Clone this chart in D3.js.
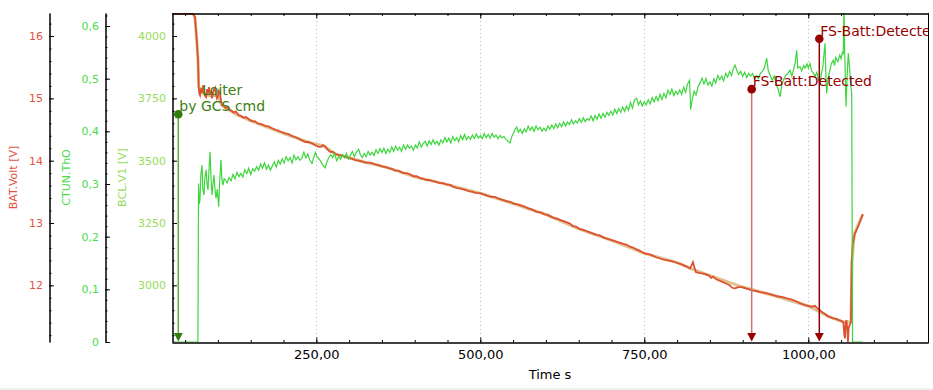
<!DOCTYPE html>
<html lang="en">
<head>
<meta charset="UTF-8">
<script src="https://cdn.jsdelivr.net/npm/d3@7"></script>
<style>
  body { margin: 0; background: #fff; }
  text { font-family: "DejaVu Sans", sans-serif; }
</style>
</head>
<body>
<div id="chart"></div>
<script>
// ---- data ----
var ctunThO = [[30,0],[69.5,0],[70.5,0.301],[71.5,0.262],[72.7,0.27],[74,0.318],[75.8,0.336],[77,0.29],[78.8,0.279],[80,0.31],[81.9,0.327],[83.5,0.3],[84.9,0.289],[86.5,0.33],[88,0.361],[89.5,0.31],[91,0.279],[92.5,0.3],[94,0.317],[95.5,0.29],[97.1,0.273],[99,0.29],[101.2,0.257],[102.5,0.3],[104.7,0.346],[106,0.31],[107.8,0.298],[109.5,0.31],[111.3,0.308],[114,0.302],[117,0.312],[120,0.306],[123,0.318],[126,0.31],[129,0.322],[132,0.314],[135,0.32],[138,0.313],[141,0.327],[144,0.32],[147,0.33],[150,0.318],[153,0.329],[156,0.324],[159,0.333],[162,0.326],[165,0.338],[168,0.33],[171,0.34],[174,0.328],[177,0.336],[180,0.326],[183,0.334],[186,0.342],[189,0.332],[192,0.345],[195,0.338],[198,0.348],[201,0.34],[204,0.352],[207,0.344],[210,0.35],[213,0.34],[216,0.355],[219,0.346],[222,0.352],[225,0.345],[228,0.349],[231,0.36],[234,0.35],[237,0.357],[240,0.346],[243.4,0.339],[246,0.35],[248.5,0.36],[251,0.352],[254,0.348],[257,0.342],[260,0.336],[263.7,0.331],[266,0.342],[269,0.35],[272,0.356],[275,0.35],[278,0.358],[281,0.344],[284,0.352],[287,0.347],[290,0.356],[293,0.35],[296,0.358],[299,0.347],[302,0.355],[305,0.362],[308,0.352],[311,0.36],[314.6,0.366],[317,0.356],[320,0.35],[323,0.358],[326,0.352],[329,0.362],[332,0.355],[335,0.36],[338,0.354],[341,0.365],[344,0.358],[347,0.367],[350,0.36],[353,0.368],[356,0.358],[359,0.366],[362,0.36],[365,0.37],[368,0.362],[371,0.372],[374,0.364],[377,0.37],[380,0.362],[383,0.374],[386,0.366],[389,0.374],[392,0.368],[395,0.372],[398,0.364],[401,0.374],[404,0.368],[407,0.38],[410,0.37],[413,0.377],[416,0.381],[419,0.372],[422,0.382],[425,0.375],[428,0.384],[431,0.376],[434,0.381],[437,0.374],[440,0.384],[443,0.378],[446,0.388],[449,0.38],[452,0.387],[455,0.378],[458,0.39],[461,0.382],[464,0.388],[467,0.38],[470,0.392],[473,0.384],[476,0.394],[479,0.384],[482,0.39],[485,0.385],[488,0.393],[491,0.386],[494,0.395],[497,0.387],[500,0.392],[503,0.386],[506,0.396],[509,0.388],[512,0.394],[515,0.387],[518,0.396],[521,0.389],[524,0.393],[527,0.386],[530,0.392],[533,0.388],[536,0.39],[539,0.385],[542,0.381],[545.3,0.378],[548,0.39],[551,0.398],[553,0.404],[555.5,0.408],[558,0.398],[561,0.404],[564,0.396],[567,0.405],[570,0.399],[573,0.41],[576,0.402],[579,0.408],[582,0.4],[585,0.41],[588,0.403],[591,0.408],[594,0.4],[597,0.406],[600,0.401],[603,0.41],[606,0.404],[609,0.412],[612,0.405],[615,0.414],[618,0.407],[621,0.415],[624,0.409],[627,0.418],[630,0.41],[633,0.418],[636,0.413],[639,0.422],[642,0.414],[645,0.42],[648,0.416],[651,0.424],[654,0.417],[657,0.426],[660,0.418],[663,0.424],[666,0.421],[669,0.429],[672,0.42],[675,0.43],[678,0.423],[681,0.433],[684,0.425],[687,0.434],[690,0.427],[693,0.436],[696,0.43],[699,0.438],[702,0.431],[705,0.442],[708,0.434],[711,0.443],[714,0.436],[717,0.446],[720,0.438],[723,0.448],[726,0.44],[729,0.455],[732,0.444],[735,0.46],[738.4,0.463],[741,0.45],[744,0.458],[747,0.448],[750,0.456],[753,0.45],[756,0.46],[759,0.452],[762,0.464],[765,0.456],[768,0.466],[771,0.458],[774,0.47],[777,0.46],[780,0.472],[783,0.464],[786,0.478],[789,0.47],[792,0.48],[795,0.468],[798,0.476],[801,0.47],[804,0.479],[807,0.47],[810,0.484],[813,0.474],[816,0.49],[819,0.497],[820.7,0.441],[823,0.46],[826,0.476],[829,0.469],[832,0.485],[835,0.492],[838,0.501],[841,0.49],[844,0.5],[847,0.488],[850,0.494],[853,0.486],[856,0.5],[859,0.492],[862,0.506],[865,0.498],[868,0.505],[871,0.496],[874,0.51],[877,0.503],[880,0.514],[883,0.506],[886,0.52],[888.3,0.526],[891,0.516],[894,0.508],[897,0.514],[900,0.504],[903,0.512],[906,0.502],[909,0.51],[912,0.505],[915,0.51],[918,0.5],[921,0.506],[924,0.5],[927,0.51],[930,0.514],[933,0.52],[936.6,0.539],[939,0.515],[942,0.506],[945,0.497],[948,0.505],[951,0.49],[954,0.48],[957,0.466],[960,0.49],[963,0.5],[966,0.507],[969,0.51],[972,0.516],[975,0.505],[978,0.52],[980,0.53],[982.3,0.554],[984,0.52],[987.3,0.523],[990,0.515],[993,0.525],[995,0.52],[998,0.528],[1000,0.52],[1002.6,0.529],[1005,0.515],[1008,0.51],[1010.2,0.504],[1013,0.512],[1015,0.5],[1017.8,0.491],[1020,0.51],[1022,0.52],[1025.5,0.567],[1027,0.5],[1028,0.472],[1030,0.5],[1033,0.516],[1035,0.528],[1038,0.535],[1040,0.525],[1042,0.54],[1045,0.532],[1048,0.545],[1050,0.538],[1052,0.55],[1053.4,0.548],[1054.4,0.64],[1055.5,0.55],[1057.5,0.447],[1059,0.5],[1061,0.548],[1063,0.52],[1064.5,0.49],[1066.2,0.472],[1067.5,0],[1083,0]];

var batVolt = [[30,16.36],[62,16.36],[65,16.3],[67.7,15.94],[69.7,15.61],[70.7,15.19],[71.5,15.08],[72.7,15.05],[74,15.16],[75.5,15.08],[77.3,15.21],[79,15.1],[80.5,15.04],[81.9,15.02],[83.5,15.15],[85,15.08],[86.4,15.18],[88,15.06],[89.5,15.12],[91,15.0],[92.5,15.1],[94,15.14],[95.6,15.17],[97,15.06],[98.5,15.0],[100.2,15.04],[101.5,15.12],[103.2,15.09],[104.5,14.98],[106.3,14.89],[109,14.88],[112,14.84],[115,14.86],[118.4,14.81],[121,14.8],[124,14.77],[127,14.79],[131.7,14.73],[135,14.72],[139,14.69],[143,14.7],[148.9,14.65],[153,14.63],[157,14.63],[160,14.6],[164.2,14.59],[168,14.58],[172,14.56],[177,14.55],[182.5,14.52],[187,14.5],[192,14.48],[197,14.46],[202.3,14.44],[207,14.43],[212,14.4],[217.5,14.38],[222,14.36],[227,14.33],[233.2,14.3],[238,14.3],[243.4,14.28],[248,14.25],[253.7,14.22],[257,14.22],[260,14.25],[263.7,14.23],[267,14.18],[270.9,14.14],[275,14.14],[279,14.11],[284.1,14.09],[290,14.08],[295.3,14.06],[300,14.04],[305,14.03],[309.5,14.01],[315,14.0],[319.7,13.99],[325,13.97],[330,13.97],[334.9,13.96],[340,13.94],[345,13.93],[350,13.91],[354.7,13.9],[360,13.88],[365,13.87],[370,13.84],[375,13.84],[382.6,13.8],[388,13.8],[393,13.78],[398,13.75],[403,13.75],[408.1,13.72],[413,13.71],[418,13.69],[423,13.69],[428,13.67],[433.5,13.66],[438,13.64],[443,13.64],[448,13.62],[453.8,13.61],[459,13.58],[465,13.56],[470,13.55],[476.7,13.53],[482,13.51],[488,13.5],[494,13.48],[499.5,13.48],[505,13.46],[510,13.44],[516,13.42],[522.4,13.42],[528,13.39],[534,13.37],[540,13.35],[545.3,13.34],[551,13.31],[557,13.3],[563,13.28],[568.1,13.26],[574,13.23],[580,13.21],[586,13.18],[592,13.17],[598,13.14],[603,13.13],[606.2,13.11],[612,13.08],[617,13.07],[621.5,13.05],[627,13.03],[632,13.01],[636.7,12.99],[641,12.95],[646,12.94],[652,12.9],[657,12.89],[662,12.87],[667.2,12.85],[672,12.83],[677,12.81],[682,12.8],[687.5,12.77],[693,12.75],[699,12.73],[705.3,12.71],[711,12.69],[717,12.67],[723.2,12.65],[728,12.62],[732,12.61],[737.3,12.58],[742,12.56],[747,12.53],[751.5,12.51],[757,12.5],[762,12.48],[768,12.45],[773.9,12.43],[780,12.41],[785,12.4],[790,12.39],[796.8,12.37],[802,12.35],[806,12.34],[810,12.32],[815,12.3],[819.7,12.27],[822,12.32],[824.2,12.37],[826,12.3],[828.8,12.21],[833,12.2],[838,12.19],[842.5,12.18],[848,12.16],[852,12.12],[855.2,12.14],[859,12.1],[865.4,12.07],[870,12.05],[876.1,12.02],[880,12.0],[884,11.96],[888.3,11.95],[893,11.97],[899,11.97],[905,11.95],[909,11.94],[913.7,11.92],[920,11.91],[926.4,11.89],[934,11.88],[941.6,11.86],[948,11.84],[954.3,11.82],[961,11.81],[967.5,11.79],[975,11.77],[982.3,11.74],[988,11.71],[995,11.68],[1002.6,11.66],[1007,11.66],[1010.2,11.67],[1014,11.63],[1017.8,11.6],[1021,11.57],[1025.5,11.54],[1030,11.5],[1033,11.49],[1038,11.47],[1042.2,11.46],[1047,11.44],[1050,11.43],[1053.4,11.41],[1055,11.2],[1056,11.15],[1057,11.4],[1058.2,11.44],[1059.5,11.3],[1060.5,11.09],[1061.5,11.3],[1062.8,11.36],[1064,11.38],[1065,11.41],[1066.2,12.35],[1067.7,12.67],[1071.2,12.83],[1077.3,12.98],[1083.2,13.14]];

var bclV1 = [[30,4090],[62,4090],[65,4075],[67.7,3985],[69.7,3902],[70.7,3797],[80,3765],[90,3760],[100,3762],[106,3722],[130,3683],[160,3650],[200,3610],[240,3572],[260,3560],[280,3526],[320,3497],[360,3471],[400,3435],[450,3404],[500,3370],[550,3328],[600,3284],[650,3226],[700,3180],[750,3128],[800,3092],[820,3068],[860,3030],[900,2993],[950,2957],[1000,2917],[1030,2876],[1053,2853],[1065,2853],[1066.5,3090],[1070,3205],[1083,3285]];

var eventTimes = [39.6, 913.7, 1016.8];
var eventLabels = [["Loiter", "by GCS cmd"], ["FS-Batt:Detected"], ["FS-Batt:Detected"]];
var eventLevels = [3686, 3787, 3989]; // marker height, read on the BCL.V1 axis

var timeTicks = [250, 500, 750, 1000];
var batTicks = [12, 13, 14, 15, 16];
var ctunTicks = [0, 0.1, 0.2, 0.3, 0.4, 0.5, 0.6];
var bclTicks = [3000, 3250, 3500, 3750, 4000];

// ---- layout ----
var W = 933, H = 390;
var mLeft = 172, mRight = 928, mTop = 13, mBottom = 342;

var svg = d3.select("#chart").append("svg")
    .attr("width", W)
    .attr("height", H);

svg.append("rect").attr("x", 0).attr("y", 388).attr("width", W).attr("height", 2).attr("fill", "#efefef");

var x = d3.scaleLinear().domain([30, 1182.5]).range([mLeft, mRight]);
var yBat = d3.scaleLinear().domain([11.09, 16.37]).range([mBottom, mTop]);
var yCtun = d3.scaleLinear().domain([0, 0.6247]).range([mBottom, mTop]);
var yBcl = d3.scaleLinear().domain([2772.5, 4092.5]).range([mBottom, mTop]);

var comma = function (v) { return String(+v.toFixed(2)).replace(".", ","); };
var comma2 = function (v) { return v.toFixed(2).replace(".", ","); };

svg.append("defs").append("clipPath").attr("id", "plotclip")
  .append("rect").attr("x", mLeft).attr("y", mTop).attr("width", mRight - mLeft).attr("height", mBottom - mTop);

// grid
svg.append("g").selectAll("line").data(timeTicks).enter().append("line")
    .attr("x1", function (d) { return Math.round(x(d)) + 0.5; })
    .attr("x2", function (d) { return Math.round(x(d)) + 0.5; })
    .attr("y1", mTop).attr("y2", mBottom)
    .attr("stroke", "#bbbbbb")
    .attr("stroke-dasharray", "1,3");

// series
var plot = svg.append("g").attr("clip-path", "url(#plotclip)");

var lineBcl = d3.line().x(function (d) { return x(d[0]); }).y(function (d) { return yBcl(d[1]); });
var lineBat = d3.line().x(function (d) { return x(d[0]); }).y(function (d) { return yBat(d[1]); });
var lineCtun = d3.line().x(function (d) { return x(d[0]); }).y(function (d) { return yCtun(d[1]); });

plot.append("path").datum(bclV1).attr("d", lineBcl)
    .attr("fill", "none").attr("stroke", "#d4ac6a").attr("stroke-width", 3).attr("stroke-opacity", 0.75);
plot.append("path").datum(batVolt).attr("d", lineBat)
    .attr("fill", "none").attr("stroke", "#dc5332").attr("stroke-width", 1.8);
plot.append("path").datum(ctunThO).attr("d", lineCtun)
    .attr("fill", "none").attr("stroke", "#3dd63d").attr("stroke-width", 1.2);

// events
var evColors = [
  { line: "#66a83a", dot: "#2f7d0c", text: "#3c8010" },
  { line: "#c97272", dot: "#990000", text: "#990000" },
  { line: "#8b0000", dot: "#990000", text: "#990000" }
];
eventTimes.forEach(function (t, i) {
  var ex = x(t), ey = yBcl(eventLevels[i]), c = evColors[i];
  plot.append("line")
      .attr("x1", ex).attr("x2", ex).attr("y1", ey).attr("y2", mBottom - 6)
      .attr("stroke", c.line).attr("stroke-width", 1.5);
  plot.append("path")
      .attr("d", "M" + (ex - 4.5) + "," + (mBottom - 9) + "L" + (ex + 4.5) + "," + (mBottom - 9) + "L" + ex + "," + (mBottom - 0.5) + "Z")
      .attr("fill", c.dot);
  plot.append("circle").attr("cx", ex).attr("cy", ey).attr("r", 4.3).attr("fill", c.dot);

  var lines = eventLabels[i];
  var g = plot.append("g");
  var texts = lines.map(function (s, k) {
    return g.append("text")
        .attr("y", ey - 3 - (lines.length - 1 - k) * 16.5)
        .attr("font-size", 14)
        .attr("fill", c.text)
        .text(s);
  });
  var widths = texts.map(function (tx) { return tx.node().getComputedTextLength(); });
  var maxW = d3.max(widths);
  texts.forEach(function (tx, k) { tx.attr("x", ex + 1 + (maxW - widths[k]) / 2); });
});

// axes
function styleAxis(g, color) {
  g.selectAll("path.domain").attr("stroke", "#000");
  g.selectAll(".tick line").attr("stroke", "#000");
  g.selectAll("text").attr("fill", color).attr("font-size", 11).attr("font-family", "DejaVu Sans");
}

function leftAxis(xpos, scale, major, minor, fmt, color) {
  var gMinor = svg.append("g").attr("transform", "translate(" + xpos + ",0)")
      .call(d3.axisLeft(scale).tickValues(minor).tickSize(-2).tickSizeOuter(0).tickFormat(""));
  styleAxis(gMinor, color);
  var gMajor = svg.append("g").attr("transform", "translate(" + xpos + ",0)")
      .call(d3.axisLeft(scale).tickValues(major).tickSize(-4.5).tickSizeOuter(0).tickPadding(6.5).tickFormat(fmt));
  styleAxis(gMajor, color);
}

leftAxis(49.5, yBat, batTicks, d3.range(11.2, 16.3, 0.2), comma, "#e2543f");
leftAxis(105.5, yCtun, ctunTicks, d3.range(0.02, 0.621, 0.02), comma, "#4cdb4c");
leftAxis(172.5, yBcl, bclTicks, d3.range(2800, 4091, 50), d3.format("d"), "#96dc5a");

var minorT = d3.range(50, 1160, 50);
var gxMinor = svg.append("g").attr("transform", "translate(0," + (mBottom + 0.5) + ")")
    .call(d3.axisBottom(x).tickValues(minorT).tickSize(-2.5).tickSizeOuter(0).tickFormat(""));
styleAxis(gxMinor, "#000");
var gx = svg.append("g").attr("transform", "translate(0," + (mBottom + 0.5) + ")")
    .call(d3.axisBottom(x).tickValues(timeTicks).tickSize(-5).tickSizeOuter(0).tickPadding(7.5).tickFormat(comma2));
styleAxis(gx, "#000");
gx.selectAll("text").attr("font-size", 13);

var gtMinor = svg.append("g").attr("transform", "translate(0," + (mTop + 0.5) + ")")
    .call(d3.axisTop(x).tickValues(minorT).tickSize(-2.5).tickSizeOuter(0).tickFormat(""));
styleAxis(gtMinor, "#000");
var gt = svg.append("g").attr("transform", "translate(0," + (mTop + 0.5) + ")")
    .call(d3.axisTop(x).tickValues(timeTicks).tickSize(-5).tickSizeOuter(0).tickFormat(""));
styleAxis(gt, "#000");

svg.append("line").attr("x1", mRight + 0.5).attr("x2", mRight + 0.5).attr("y1", mTop).attr("y2", mBottom + 1)
    .attr("stroke", "#000");

// titles
var midY = (mTop + mBottom) / 2;
[["BAT.Volt [V]", 17, "#e2543f"], ["CTUN.ThO", 70, "#4cdb4c"], ["BCL.V1 [V]", 126, "#96dc5a"]].forEach(function (a) {
  svg.append("text")
      .attr("transform", "translate(" + a[1] + "," + midY + ") rotate(-90)")
      .attr("text-anchor", "middle")
      .attr("font-size", 11)
      .attr("fill", a[2])
      .text(a[0]);
});

svg.append("text")
    .attr("x", (mLeft + mRight) / 2).attr("y", 379)
    .attr("text-anchor", "middle")
    .attr("font-size", 13)
    .attr("fill", "#000")
    .text("Time s");
</script>
</body>
</html>
